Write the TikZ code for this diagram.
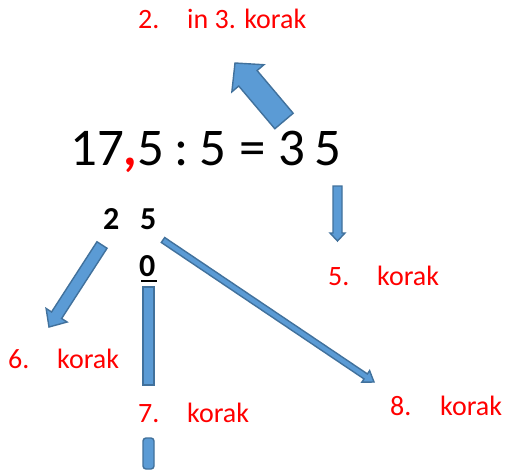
\documentclass[tikz,border=0pt]{standalone}
\usepackage{fontspec}
\setmainfont{Carlito}
\usetikzlibrary{calc}
\definecolor{arrfill}{HTML}{5B9BD5}
\definecolor{arrline}{HTML}{41719C}
\tikzset{
  barrow/.style={fill=arrfill,draw=arrline,line width=1.4pt,line join=miter},
  lbl/.style={anchor=base west,inner sep=0pt,text=red,font=\fontsize{28}{30}\selectfont},
  eqp/.style={anchor=base west,inner sep=0pt,font=\fontsize{53}{56}\selectfont},
  calc/.style={anchor=base west,inner sep=0pt,font=\bfseries\fontsize{32}{34}\selectfont},
}
\newcommand\blockarr[5]{%
  \coordinate (#1b) at ($(#2)!#5!(#1)$);
  \path[barrow] ($(#1)!#3!90:(#2)$) -- ($(#1b)!#3!90:(#2)$) -- ($(#1b)!#4!90:(#2)$) -- (#2)
    -- ($(#1b)!#4!-90:(#2)$) -- ($(#1b)!#3!-90:(#2)$) -- ($(#1)!#3!-90:(#2)$) -- cycle;}
\begin{document}
\begin{tikzpicture}[x=1pt,y=-1pt]
\useasboundingbox[fill=white] (0,0) rectangle (509,472);
% main equation
\node[eqp] (e1) at (70,165) {17{\color{red}\textbf{,}}5};
\node[eqp] (e2) at (174,165) {:};
\node[eqp] (e3) at (199,165) {5};
\node[eqp] (e4) at (239,165) {=};
\node[eqp] (e5) at (278,165) {3};
\node[eqp] (e6) at (314,165) {5};
% partial computations
\node[calc] (d2) at (103,229) {2};
\node[calc] (d5) at (140,229) {5};
\node[calc] (d0) at (139,276) {0};
\coordinate (u1) at (141,281);
\coordinate (u2) at (157,281);
\draw[line width=2.2pt] (u1) -- (u2);
% labels
\node[lbl] (l2a) at (138,28) {2.};
\node[lbl] (l2b) at (187,28) {in 3. korak};
\node[lbl] (l5a) at (328,285) {5.};
\node[lbl] (l5b) at (377,285) {korak};
\node[lbl] (l6a) at (8,368) {6.};
\node[lbl] (l6b) at (57,368) {korak};
\node[lbl] (l7a) at (138,422) {7.};
\node[lbl] (l7b) at (187,422) {korak};
\node[lbl] (l8a) at (390,415) {8.};
\node[lbl] (l8b) at (440,415) {korak};
% arrows
\coordinate (a1t) at (284,121); \coordinate (a1p) at (235,63);
\blockarr{a1t}{a1p}{12pt}{21pt}{20pt}
\coordinate (a2t) at (337.5,186); \coordinate (a2p) at (337.5,241);
\blockarr{a2t}{a2p}{4.5pt}{7.5pt}{8pt}
\coordinate (a3t) at (102,245); \coordinate (a3p) at (49,327);
\blockarr{a3t}{a3p}{6pt}{12.5pt}{14pt}
\coordinate (a4t) at (163,240); \coordinate (a4p) at (374,382);
\blockarr{a4t}{a4p}{3pt}{7pt}{10pt}
% vertical bar behind 7. korak
\path[barrow] (143,287) rectangle (154,385);
\path[barrow,rounded corners=3pt] (143,438) -- (143,469) -- (154,469) -- (154,438) -- cycle;
\end{tikzpicture}
\end{document}
